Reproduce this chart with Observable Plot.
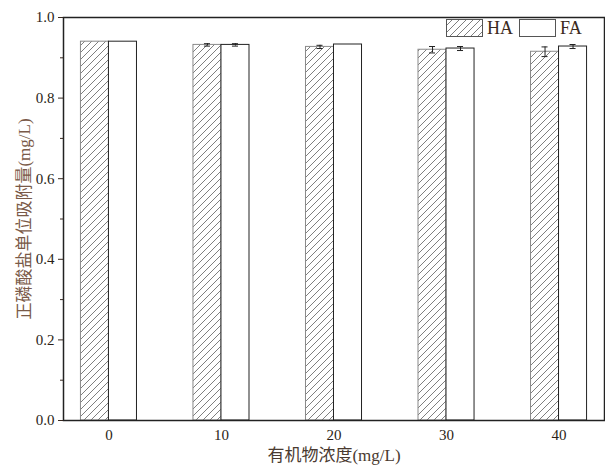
<!DOCTYPE html>
<html>
<head>
<meta charset="utf-8">
<script src="https://cdn.jsdelivr.net/npm/d3@7"></script>
<script src="https://cdn.jsdelivr.net/npm/@observablehq/plot@0.6"></script>
<style>
  body { margin: 0; background: #fff; }
  #wrap { position: relative; width: 605px; height: 465px; }
  #legend { position: absolute; left: 446px; top: 19px; display: flex; align-items: center;
    font-family: "Liberation Serif", "Times New Roman", serif; font-size: 18px; line-height: 18px; color: #3b2a20; }
  #legend svg { display: block; }
</style>
</head>
<body>
<div id="wrap"><div id="legend"></div></div>
<script>
const concentrations = ["0", "10", "20", "30", "40"];
const haValues = [0.940, 0.932, 0.927, 0.920, 0.915];
const faValues = [0.940, 0.932, 0.933, 0.923, 0.928];
const haErrors = [0, 0.003, 0.004, 0.008, 0.012];
const faErrors = [0, 0.003, 0, 0.005, 0.005];
const majorTicks = [0, 0.2, 0.4, 0.6, 0.8, 1.0];
const minorTicks = [0.1, 0.3, 0.5, 0.7, 0.9];

const ha = concentrations.map((c, i) => ({c, v: haValues[i], e: haErrors[i]}));
const fa = concentrations.map((c, i) => ({c, v: faValues[i], e: faErrors[i]}));

const serif = '"Liberation Serif", "Times New Roman", "Noto Sans CJK SC", serif';

const chart = Plot.plot({
  width: 605,
  height: 465,
  marginLeft: 63,
  marginRight: 1,
  marginTop: 17,
  marginBottom: 45,
  style: {fontFamily: serif, fontSize: "15px", color: "#3b2a20", background: "#fff"},
  x: {domain: concentrations, paddingInner: 0.502, paddingOuter: 0.155, round: false},
  y: {domain: [0, 1]},
  marks: [
    Plot.barY(ha, {x: "c", y: "v", fill: "url(#hatch)", stroke: "#8a8a8a", strokeWidth: 1, insetRight: 28}),
    Plot.barY(fa, {x: "c", y: "v", fill: "#fff", stroke: "#222", strokeWidth: 1, insetLeft: 28}),
    Plot.ruleX(ha.filter(d => d.e > 0), {x: "c", y1: d => d.v - d.e, y2: d => d.v + d.e, dx: -14, stroke: "#222"}),
    Plot.tickY(ha.filter(d => d.e > 0), {x: "c", y: d => d.v - d.e, insetLeft: 11, insetRight: 39, stroke: "#222"}),
    Plot.tickY(ha.filter(d => d.e > 0), {x: "c", y: d => d.v + d.e, insetLeft: 11, insetRight: 39, stroke: "#222"}),
    Plot.ruleX(fa.filter(d => d.e > 0), {x: "c", y1: d => d.v - d.e, y2: d => d.v + d.e, dx: 14, stroke: "#222"}),
    Plot.tickY(fa.filter(d => d.e > 0), {x: "c", y: d => d.v - d.e, insetLeft: 39, insetRight: 11, stroke: "#222"}),
    Plot.tickY(fa.filter(d => d.e > 0), {x: "c", y: d => d.v + d.e, insetLeft: 39, insetRight: 11, stroke: "#222"}),
    Plot.axisX({tickSize: 0, tickPadding: 9, fill: "#2a1e16", fontSize: 15, label: "有机物浓度(mg/L)", labelAnchor: "center", labelOffset: 40, labelArrow: false}),
    Plot.axisY({ticks: majorTicks, tickFormat: ".1f", tickSize: 5, tickPadding: 4, fill: "#2a1e16", fontSize: 15,
      label: "正磷酸盐单位吸附量(mg/L)", labelAnchor: "center", labelOffset: 46, labelArrow: false}),
    Plot.axisY({ticks: minorTicks, tickFormat: () => "", tickSize: 3, label: null}),
    Plot.frame({stroke: "#222", strokeWidth: 1.5})
  ]
});

const ns = "http://www.w3.org/2000/svg";
function addHatch(svg, id) {
  const defs = document.createElementNS(ns, "defs");
  defs.innerHTML = `<pattern id="${id}" patternUnits="userSpaceOnUse" width="7" height="7">
      <rect width="7" height="7" fill="#fff"/>
      <path d="M-1,8 L8,-1 M-2,2 L2,-2 M5,9 L9,5" stroke="#707070" stroke-width="0.9"/>
    </pattern>`;
  svg.insertBefore(defs, svg.firstChild);
}
addHatch(chart, "hatch");
document.getElementById("wrap").prepend(chart);

chart.querySelectorAll("[aria-label='x-axis label'] text").forEach(t => {
  t.setAttribute("fill", "#4a3a30");
  t.style.fontSize = "17px";
});
chart.querySelectorAll("[aria-label='y-axis label'] text").forEach(t => {
  t.setAttribute("fill", "#7a5a48");
  t.style.fontSize = "17px";
});

const legend = document.getElementById("legend");
legend.innerHTML = `
  <svg width="37" height="18"><defs><pattern id="hatchL" patternUnits="userSpaceOnUse" width="7" height="7">
      <rect width="7" height="7" fill="#fff"/>
      <path d="M-1,8 L8,-1 M-2,2 L2,-2 M5,9 L9,5" stroke="#707070" stroke-width="0.9"/></pattern></defs>
    <rect x="0.5" y="0.5" width="36" height="17" fill="url(#hatchL)" stroke="#555"/></svg>
  <span style="margin-left:4px;margin-right:6px">HA</span>
  <svg width="37" height="18"><rect x="0.5" y="0.5" width="36" height="17" fill="#fff" stroke="#555"/></svg>
  <span style="margin-left:4px">FA</span>`;
</script>
</body>
</html>
